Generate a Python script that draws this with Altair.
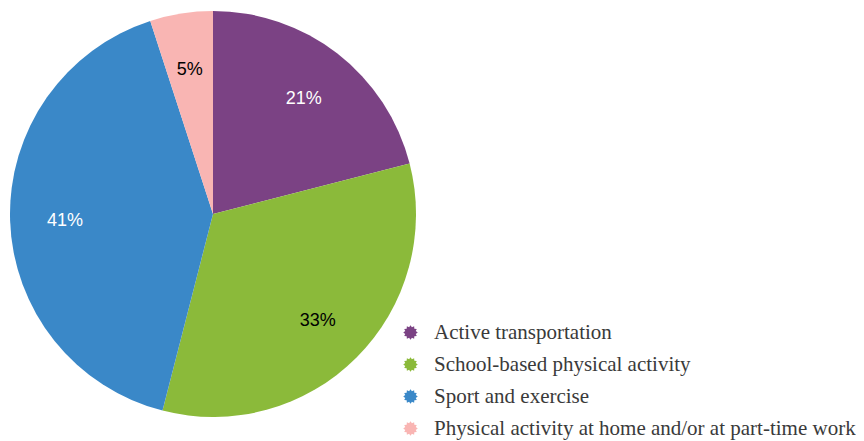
import math
import altair as alt
import pandas as pd

categories = ["Active transportation", "School-based physical activity",
              "Sport and exercise", "Physical activity at home and/or at part-time work"]
values = [21, 33, 41, 5]
labels = ["21%", "33%", "41%", "5%"]
colors = ["#7B4284", "#8BBA3A", "#3A88C8", "#F9B5B3"]
label_colors = ["white", "black", "white", "black"]

df = pd.DataFrame({"category": categories, "value": values, "label": labels,
                   "order": list(range(len(categories))), "lc": label_colors})

# starburst symbol path
pts = []
n = 12
for i in range(2 * n):
    r = 1.0 if i % 2 == 0 else 0.75
    a = math.pi * i / n
    pts.append(f"{r*math.cos(a):.3f},{r*math.sin(a):.3f}")
star = "M" + "L".join(pts) + "Z"

base = alt.Chart(df).encode(
    theta=alt.Theta("value:Q", stack=True),
    order=alt.Order("order:Q"),
)

pie = base.mark_arc(radius=203, x=205, y=206).encode(
    color=alt.Color("category:N",
                    scale=alt.Scale(domain=categories, range=colors),
                    sort=categories,
                    legend=alt.Legend(title=None, orient="none", legendX=392, legendY=314,
                                      symbolType=star, symbolSize=210, symbolStrokeWidth=0,
                                      labelFont="Liberation Serif", labelFontSize=21,
                                      labelColor="#3a3a3a", labelOffset=13, rowPadding=10,
                                      labelLimit=600)),
)

text = base.mark_text(radius=148, x=205, y=208, font="Liberation Sans", fontSize=18).encode(
    text="label:N",
    color=alt.Color("lc:N", scale=None),
)

chart = (pie + text).properties(width=848, height=433, padding=0,
                                autosize=alt.AutoSizeParams(type="none")).configure_view(stroke=None)

chart.save("out.html", embed_options={"renderer": "svg", "actions": False})
